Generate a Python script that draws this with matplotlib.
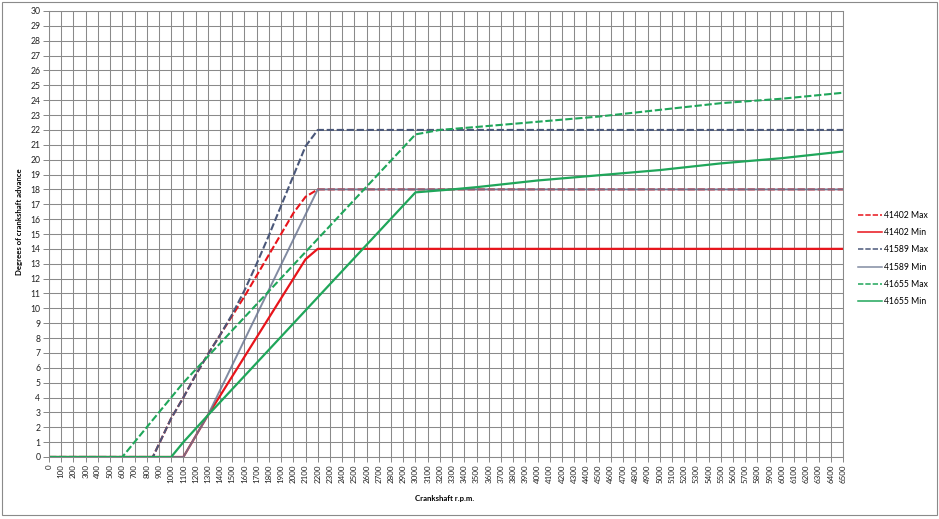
import matplotlib
matplotlib.use('Agg')
import matplotlib.pyplot as plt
from matplotlib.patches import Rectangle


# advance curves (rpm, degrees)
rpm_41402_max = [0, 850, 1000, 1100, 1200, 1300, 1400, 1500, 1600, 1700, 1800, 1900, 2000, 2100, 2200, 6500]
deg_41402_max = [0, 0, 2.6, 4.0, 5.5, 6.9, 8.2, 9.5, 10.8, 12.2, 13.6, 15.0, 16.4, 17.5, 18.0, 18.0]

rpm_41402_min = [0, 1100, 1300, 2100, 2200, 6500]
deg_41402_min = [0, 0, 2.8, 13.3, 14.0, 14.0]

rpm_41589_max = [0, 850, 1000, 1100, 1200, 1300, 1400, 1500, 1600, 1700, 1800, 1900, 2000, 2100, 2200, 6500]
deg_41589_max = [0, 0, 2.6, 4.0, 5.5, 6.9, 8.2, 9.6, 11.2, 13.0, 14.9, 16.9, 18.9, 20.9, 22.0, 22.0]

rpm_41589_min = [0, 1100, 1300, 2200, 6500]
deg_41589_min = [0, 0, 2.8, 18.0, 18.0]

rpm_41655_max = [0, 600, 1100, 3000, 3200, 3500, 4000, 4500, 5000, 5500, 6000, 6500]
deg_41655_max = [0, 0, 5.0, 21.7, 22.0, 22.2, 22.55, 22.9, 23.35, 23.8, 24.1, 24.5]

rpm_41655_min = [0, 1000, 1100, 1300, 3000, 3300, 3500, 4000, 4500, 5000, 5500, 6000, 6500]
deg_41655_min = [0, 0, 1.0, 2.8, 17.8, 18.0, 18.15, 18.6, 18.95, 19.3, 19.75, 20.1, 20.55]

x_ticks = list(range(0, 6600, 100))
y_ticks = list(range(0, 31))

plt.rcParams['font.family'] = ['Lato', 'DejaVu Sans']

fig = plt.figure(figsize=(9.39, 5.19), dpi=100)
ax = fig.add_axes([49 / 939, 62 / 519, 794 / 939, 446 / 519])

dash = (3.5, 1.3)
ax.plot(rpm_41402_max, deg_41402_max, color='#e8141b', lw=1.5, dashes=dash, label='41402 Max')
ax.plot(rpm_41402_min, deg_41402_min, color='#e8141b', lw=1.6, label='41402 Min')
ax.plot(rpm_41589_max, deg_41589_max, color='#4b587a', lw=1.5, dashes=dash, label='41589 Max')
ax.plot(rpm_41589_min, deg_41589_min, color='#6c7792', lw=1.4, alpha=0.85, label='41589 Min')
ax.plot(rpm_41655_max, deg_41655_max, color='#1fa65a', lw=1.5, dashes=dash, label='41655 Max')
ax.plot(rpm_41655_min, deg_41655_min, color='#1fa65a', lw=1.6, label='41655 Min')

ax.set_xlim(0, 6500)
ax.set_ylim(0, 30)
ax.set_xticks(x_ticks)
ax.set_xticklabels([str(v) for v in x_ticks], rotation=90, fontsize=5.8, color='#222222')
ax.set_yticks(y_ticks)
ax.set_yticklabels([str(v) for v in y_ticks], fontsize=6.2, color='#222222')
ax.tick_params(axis='x', length=3.8, width=0.7, color='#868686', pad=1.5)
ax.tick_params(axis='y', length=4.3, width=0.7, color='#868686', pad=2)
ax.grid(True, color='#8a8a8a', lw=0.75)
ax.set_axisbelow(True)
for s in ax.spines.values():
    s.set_color('#8a8a8a')
    s.set_linewidth(0.75)

fig.text(20 / 939, 1 - 222 / 519, 'Degrees of crankshaft advance', rotation=90,
         ha='center', va='center', fontsize=5.6, fontweight='bold')
fig.text(445 / 939, 1 - 499 / 519, 'Crankshaft r.p.m.', ha='center', va='center',
         fontsize=5.6, fontweight='bold')

leg = fig.legend(loc='upper left', bbox_to_anchor=(857.5 / 939, 1 - 211 / 519),
                 frameon=False, fontsize=6.2, handlelength=2.8, handletextpad=0.3,
                 labelspacing=0.95, borderaxespad=0, borderpad=0)
for h in leg.get_lines():
    h.set_linewidth(1.1)

fig.patches.append(Rectangle((2 / 939, 4 / 519), 935 / 939, 513 / 519, transform=fig.transFigure,
                             fill=False, edgecolor='#8a8a8a', lw=0.8))

fig.savefig('out.png', dpi=100)
